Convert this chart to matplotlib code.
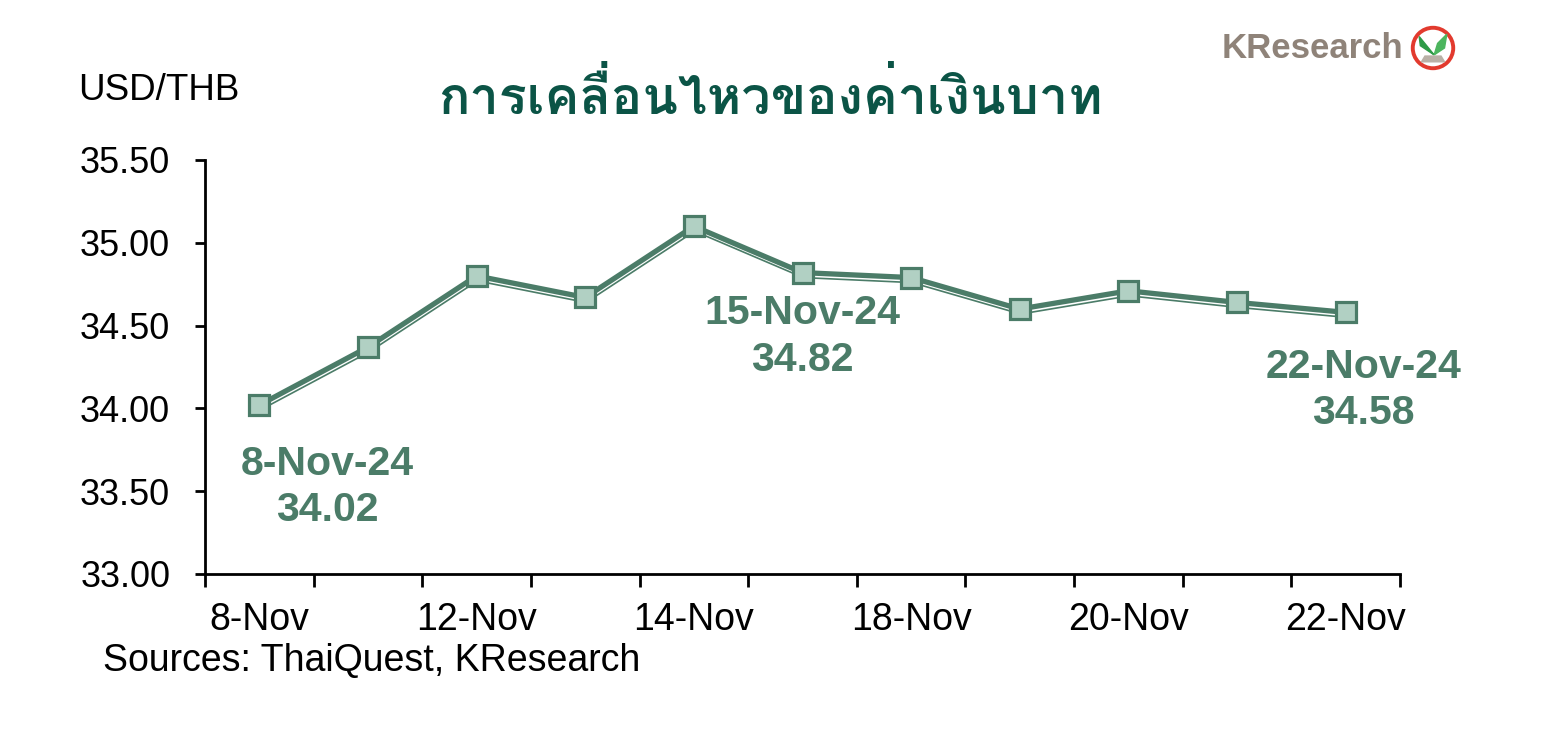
import matplotlib
matplotlib.use("Agg")
import matplotlib.pyplot as plt
import matplotlib.patheffects as pe
from matplotlib import font_manager
from matplotlib.patches import Circle, Polygon
import numpy as np

# ---------------- data ----------------
dates = ["8-Nov", "11-Nov", "12-Nov", "13-Nov", "14-Nov", "15-Nov",
         "18-Nov", "19-Nov", "20-Nov", "21-Nov", "22-Nov"]
usdthb = [34.02, 34.37, 34.80, 34.67, 35.10, 34.82,
          34.79, 34.60, 34.71, 34.64, 34.58]
shown_labels = ["8-Nov", "12-Nov", "14-Nov", "18-Nov", "20-Nov", "22-Nov"]
y_ticks = [33.0, 33.5, 34.0, 34.5, 35.0, 35.5]
callout_idx = [0, 5, 10]
callout_text = ["8-Nov-24\n34.02", "15-Nov-24\n34.82", "22-Nov-24\n34.58"]
title = "การเคลื่อนไหวของค่าเงินบาท"

# ------------- font for Thai -------------
thai_font = None
try:
    from fontTools.ttLib import TTFont
    for f in font_manager.fontManager.ttflist:
        try:
            tt = TTFont(f.fname, fontNumber=0, lazy=True)
            cmap = tt.getBestCmap()
            if cmap and ord("ก") in cmap and ord("ื") in cmap:
                thai_font = f.name
                if "Thai" in f.name or "Loma" in f.name:
                    break
        except Exception:
            pass
except Exception:
    pass

plt.rcParams['font.family'] = ['Liberation Sans', 'DejaVu Sans']

GREEN = "#4b7c68"
FILL = "#b1d0c3"
TITLE_C = "#0b5446"

fig = plt.figure(figsize=(15.53, 7.38), dpi=100)
ax = fig.add_axes([205/1553, 1-574/738, (1400-205)/1553, (574-160)/738])

x = np.arange(len(dates))
line, = ax.plot(x, usdthb, color=GREEN, lw=3.8, zorder=3, solid_joinstyle="miter")
line.set_path_effects([pe.Stroke(offset=(0.6, -3.6), linewidth=1.2, foreground=GREEN),
                       pe.Normal()])
ax.plot(x, usdthb, ls="none", marker="s", markersize=14.5,
        markerfacecolor=FILL, markeredgecolor=GREEN, markeredgewidth=2.3, zorder=4)

ax.set_xlim(-0.5, len(dates) - 0.5)
ax.set_ylim(y_ticks[0], y_ticks[-1])
ax.set_yticks(y_ticks)
ax.set_yticklabels([f"{v:.2f}" for v in y_ticks], fontsize=26)

# x: tick marks at boundaries, labels at selected categories
ax.set_xticks(np.arange(-0.5, len(dates), 1.0))
ax.set_xticklabels([])
ax.set_xticks([dates.index(d) for d in shown_labels], minor=True)
ax.set_xticklabels(shown_labels, minor=True, fontsize=27)
ax.tick_params(axis="x", which="major", length=9, width=2, direction="out")
ax.tick_params(axis="x", which="minor", length=0, pad=20)
ax.tick_params(axis="y", which="major", length=7, width=2, direction="out", pad=18)

for s in ["top", "right"]:
    ax.spines[s].set_visible(False)
for s in ["left", "bottom"]:
    ax.spines[s].set_linewidth(2)

# callouts
offsets = [(49, -59), (0, -46), (13, -56)]
for i, txt, off in zip(callout_idx, callout_text, offsets):
    ax.annotate(txt, (x[i], usdthb[i]), xytext=off, textcoords="offset points",
                ha="center", va="center", fontsize=29.5, fontweight="bold",
                color=GREEN, linespacing=1.27)

# texts
fig.text(78/1553, 1-90/738, "USD/THB", fontsize=26.5, va="center", ha="left")
fig.text(103/1553, 1-661/738, "Sources: ThaiQuest, KResearch", fontsize=27,
         va="center", ha="left")
tfam = [thai_font, 'DejaVu Sans'] if thai_font else ['DejaVu Sans']
fig.text(770/1553, 1-99/738, title, fontsize=37.5, fontweight="bold",
         color=TITLE_C, ha="center", va="center", family=tfam)

# logo
fig.text(1222/1553, 1-48/738, "KResearch", fontsize=25, fontweight="bold",
         color="#8f8379", ha="left", va="center")
lax = fig.add_axes([1410/1553, 1-71/738, 46/1553, 46/738])
lax.set_xlim(-1, 1); lax.set_ylim(-1, 1); lax.axis("off")
lax.add_patch(Circle((0, 0), 0.88, facecolor="white", edgecolor="#e23a2e", lw=2.8))
lax.add_patch(Polygon([[0.05, -0.3], [-0.6, 0.5], [-0.55, 0.1], [-0.1, -0.2]], color="#2e9a47"))
lax.add_patch(Polygon([[0.05, -0.3], [0.2, 0.2], [0.6, 0.6], [0.5, 0.0]], color="#4cb55e"))
lax.add_patch(Polygon([[-0.5, -0.6], [0.5, -0.6], [0.35, -0.35], [-0.35, -0.35]],
                      color="#b9b0a6"))

fig.savefig("out.png", dpi=100)
